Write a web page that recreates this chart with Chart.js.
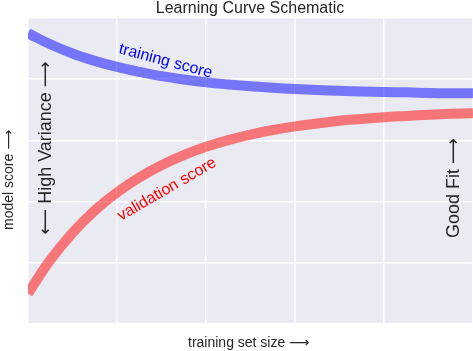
<!DOCTYPE html>
<html>
<head>
<meta charset="utf-8">
<script src="https://cdn.jsdelivr.net/npm/chart.js@4/dist/chart.umd.min.js"></script>
<style>
  html, body { margin: 0; padding: 0; background: #fff; }
  #wrap { width: 473px; height: 351px; }
</style>
</head>
<body>
<div id="wrap"><canvas id="chart" width="473" height="351"></canvas></div>
<script>
// training set size (fraction)
var sizes = [0, 0.05, 0.1, 0.15, 0.2, 0.25, 0.3, 0.35, 0.4, 0.45, 0.5,
             0.55, 0.6, 0.65, 0.7, 0.75, 0.8, 0.85, 0.9, 0.95, 1.0];
var trainingScore = [0.950, 0.914, 0.884, 0.860, 0.840, 0.824, 0.810, 0.799, 0.790, 0.783, 0.777,
                     0.772, 0.768, 0.765, 0.762, 0.760, 0.758, 0.757, 0.755, 0.754, 0.754];
var validationScore = [0.100, 0.209, 0.298, 0.371, 0.430, 0.479, 0.519, 0.552, 0.579, 0.601, 0.619,
                       0.634, 0.646, 0.655, 0.664, 0.670, 0.676, 0.680, 0.684, 0.687, 0.689];
var gridTicks = [0, 0.2, 0.4, 0.6, 0.8, 1.0];

var FONT = '"Liberation Sans", Arial, "DejaVu Sans", sans-serif';
var TEXT = '#262626';

function pts(ys) {
  return sizes.map(function (x, i) { return {x: x, y: ys[i]}; });
}

// grey plot background like seaborn darkgrid
var background = {
  id: 'background',
  beforeDraw: function (chart) {
    var a = chart.chartArea, ctx = chart.ctx;
    ctx.save();
    ctx.fillStyle = '#EAEAF2';
    ctx.fillRect(a.left, a.top, a.right - a.left, a.bottom - a.top);
    ctx.restore();
  }
};

function rotText(ctx, str, x, y, deg, opts) {
  ctx.save();
  ctx.translate(x, y);
  ctx.rotate(deg * Math.PI / 180);
  ctx.font = opts.font;
  ctx.fillStyle = opts.color || TEXT;
  ctx.textAlign = opts.align || 'left';
  ctx.textBaseline = 'alphabetic';
  ctx.fillText(str, 0, 0);
  ctx.restore();
}

var labels = {
  id: 'labels',
  afterDraw: function (chart) {
    var ctx = chart.ctx;
    rotText(ctx, 'Learning Curve Schematic', 250, 13, 0, {font: '16px ' + FONT, align: 'center'});
    rotText(ctx, 'training set size \u27F6', 188, 347, 0, {font: '14px ' + FONT});
    rotText(ctx, 'model score \u27F6', 13, 230, -90, {font: '14px ' + FONT});
    rotText(ctx, '\u27F5 High Variance \u27F6', 51, 148, -90, {font: '18px ' + FONT, align: 'center'});
    rotText(ctx, 'Good Fit \u27F6', 459, 238, -90, {font: '18px ' + FONT});
    rotText(ctx, 'training score', 118, 53, 15, {font: '16px ' + FONT, color: '#0000FF'});
    rotText(ctx, 'validation score', 121, 221, -30, {font: '16px ' + FONT, color: '#FF0000'});
  }
};

function axis() {
  return {
    type: 'linear',
    min: 0,
    max: 1,
    afterBuildTicks: function (scale) {
      scale.ticks = gridTicks.map(function (v) { return {value: v}; });
    },
    ticks: {display: false},
    grid: {color: '#FFFFFF', lineWidth: 1.5, drawTicks: false},
    border: {display: false}
  };
}

new Chart(document.getElementById('chart'), {
  type: 'line',
  data: {
    datasets: [
      {
        label: 'training score',
        data: pts(trainingScore),
        borderColor: 'rgba(0,0,255,0.5)',
        borderWidth: 10,
        pointRadius: 0,
        tension: 0.4,
        clip: 0
      },
      {
        label: 'validation score',
        data: pts(validationScore),
        borderColor: 'rgba(255,0,0,0.5)',
        borderWidth: 10,
        pointRadius: 0,
        tension: 0.4,
        clip: 0
      }
    ]
  },
  options: {
    responsive: false,
    animation: false,
    devicePixelRatio: 1,
    layout: {padding: {left: 28, top: 18, right: 0, bottom: 27}, autoPadding: false},
    scales: {x: axis(), y: axis()},
    plugins: {
      legend: {display: false},
      tooltip: {enabled: false}
    }
  },
  plugins: [background, labels]
});
</script>
</body>
</html>
